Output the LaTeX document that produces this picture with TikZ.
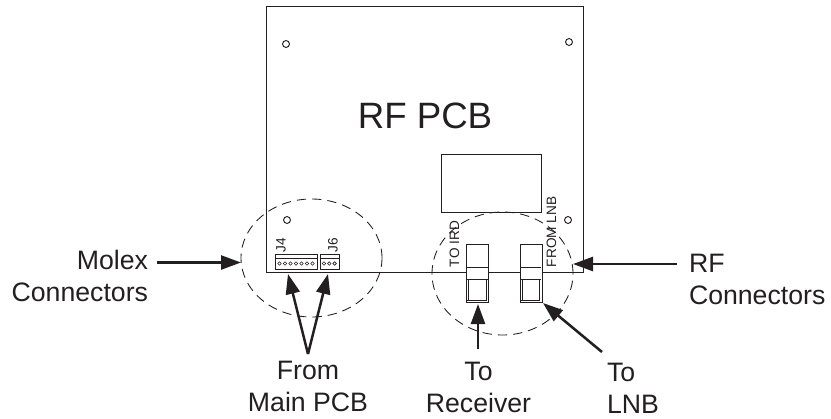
\documentclass[tikz,border=0pt]{standalone}
\usepackage{fontspec}
\setmainfont{Liberation Sans}
\usetikzlibrary{arrows.meta,shapes.geometric}
\definecolor{ink}{HTML}{231F20}
\tikzset{
  x=0.75pt,y=-0.75pt,
  every node/.style={text=ink,inner sep=0pt,outer sep=0pt},
  thin line/.style={draw=ink,line width=0.65pt},
  fine line/.style={draw=ink,line width=0.45pt},
  hole/.style={circle,draw=ink,line width=0.7pt,minimum size=5.2pt},
  callout/.style={draw=ink,line width=1.9pt,-{Triangle[length=15pt,width=10.5pt]},shorten >=0pt},
  zone/.style={draw=ink,line width=0.65pt,dash pattern=on 7pt off 4.5pt},
  label/.style={font=\fontsize{20}{24}\selectfont},
  small/.style={font=\fontsize{10.2}{12}\selectfont,rotate=90,anchor=west},
  plug/.style={draw=ink,line width=0.7pt,fill=white},
  pin/.style={circle,draw=ink,line width=0.45pt,minimum size=2.6pt}
}
\begin{document}
\begin{tikzpicture}
\useasboundingbox (0,0) rectangle (831,418);
% board
\node[thin line,minimum width=237.75pt,minimum height=199.5pt,anchor=north west] (board) at (266,6) {};
\node[font=\fontsize{27.5}{32}\selectfont,anchor=base] (title) at (425,128) {RF PCB};
\node[thin line,minimum width=75pt,minimum height=43.5pt,anchor=north west] (panel) at (441,154) {};
\node[hole] (h1) at (286,44) {};
\node[hole] (h2) at (569,42) {};
\node[hole] (h3) at (287,220) {};
\node[hole] (h4) at (568,220) {};
% Molex connectors
\node[plug,minimum width=31.5pt,minimum height=11.5pt,anchor=north west] (j4) at (275,254) {};
\draw[fine line] (275,258) -- (317,258);
\node[plug,minimum width=14.5pt,minimum height=11.5pt,anchor=north west] (j6) at (320,254) {};
\draw[fine line] (320,258) -- (339,258);
\foreach \i in {0,...,6} \node[pin] (p\i) at ({279.5+\i*5.5},263.5) {};
\foreach \i in {0,1,2} \node[pin] (q\i) at ({324+\i*5.3},263.5) {};
\node[small] (tj4) at (281,252) {J4};
\node[small] (tj6) at (333,252) {J6};
% RF connectors
\node[plug,minimum width=16.5pt,minimum height=43.5pt,anchor=north west] (c1) at (466,244) {};
\draw[fine line] (466,267) -- (488,267) (466,279) -- (488,279);
\draw[fine line] (468,279) -- (468,300) (486,279) -- (486,300) (467,300.5) -- (487,300.5);
\node[plug,minimum width=16.5pt,minimum height=43.5pt,anchor=north west] (c2) at (520,244) {};
\draw[fine line] (520,267) -- (541,267) (520,279) -- (541,279);
\draw[fine line] (522,279) -- (522,300) (539,279) -- (539,300) (521,300.5) -- (540,300.5);
\node[small] (tird) at (454.5,267) {TO IRD};
\node[small] (tlnb) at (551.5,267) {FROM LNB};
% zones
\node[zone,ellipse,minimum width=105.75pt,minimum height=88.5pt] (z1) at (311.5,258) {};
\node[zone,ellipse,minimum width=105.75pt,minimum height=92.25pt] (z2) at (502.5,273.5) {};
% labels
\node[label,align=right,anchor=south east] (molex) at (148,302) {Molex\\Connectors};
\node[label,align=left,anchor=south west] (rf) at (689,305) {RF\\Connectors};
\node[label,align=center,anchor=south] (from) at (308,412) {From\\Main PCB};
\node[label,align=center,anchor=south] (rec) at (478.5,413) {To\\Receiver};
\node[label,align=left,anchor=south west] (lnb) at (607,413) {To\\LNB};
% arrows
\coordinate (am1) at (157,262.5); \coordinate (am2) at (241,262.5);
\draw[callout] (am1) -- (am2);
\coordinate (ar1) at (677,264); \coordinate (ar2) at (573,264);
\draw[callout] (ar1) -- (ar2);
\coordinate (af0) at (308,354); \coordinate (af1) at (288,274); \coordinate (af2) at (328,274);
\draw[callout] (af0) -- (af1);
\draw[callout] (af0) -- (af2);
\coordinate (ac1) at (478,349); \coordinate (ac2) at (478,304);
\draw[callout] (ac1) -- (ac2);
\coordinate (al1) at (602,352); \coordinate (al2) at (543,303);
\draw[callout] (al1) -- (al2);
\end{tikzpicture}
\end{document}
